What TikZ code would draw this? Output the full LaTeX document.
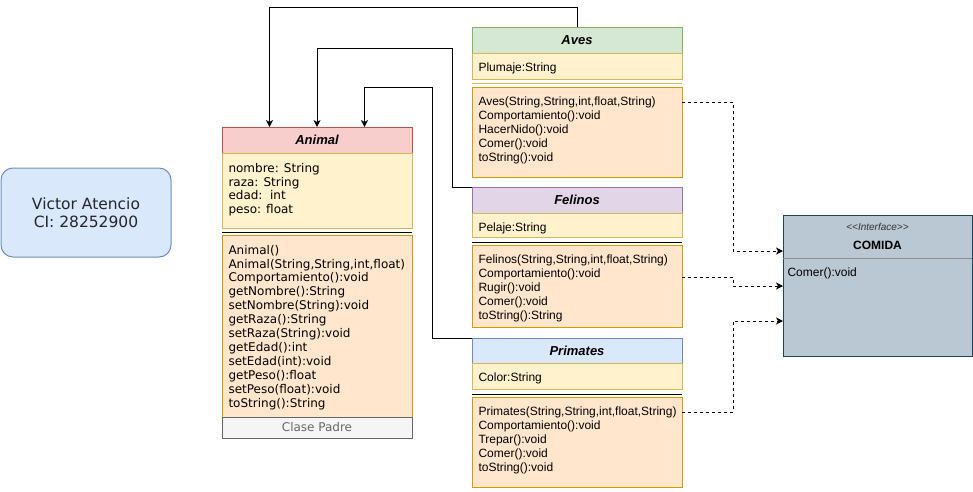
\documentclass[tikz,border=0pt]{standalone}
\usepackage{fontspec}
\setmainfont{Liberation Sans}
\newfontfamily\verdfont{DejaVu Sans}
\usepackage{tikz}
\usetikzlibrary{arrows.meta, calc}
\definecolor{PinkFill}{HTML}{F8CECC}
\definecolor{PinkLine}{HTML}{B85450}
\definecolor{AttrFill}{HTML}{FFF2CC}
\definecolor{AttrLine}{HTML}{D6B656}
\definecolor{MethFill}{HTML}{FFE6CC}
\definecolor{MethLine}{HTML}{D79B00}
\definecolor{GreenFill}{HTML}{D5E8D4}
\definecolor{GreenLine}{HTML}{82B366}
\definecolor{PurpleFill}{HTML}{E1D5E7}
\definecolor{PurpleLine}{HTML}{9673A6}
\definecolor{BlueFill}{HTML}{DAE8FC}
\definecolor{BlueLine}{HTML}{6C8EBF}
\definecolor{NoteFill}{HTML}{F5F5F5}
\definecolor{NoteLine}{HTML}{666666}
\definecolor{IfaceFill}{HTML}{BAC8D3}
\definecolor{IfaceLine}{HTML}{23445D}
\tikzset{
  headbox/.style={rectangle, anchor=north west, inner sep=0pt, outer sep=0pt, minimum height=26pt, font=\fontsize{13}{15}\selectfont\bfseries\itshape},
  attrbox/.style={rectangle, anchor=north west, inner sep=0pt, outer sep=0pt, draw=AttrLine, fill=AttrFill},
  methbox/.style={rectangle, anchor=north west, inner sep=0pt, outer sep=0pt, draw=MethLine, fill=MethFill},
  notebox/.style={rectangle, anchor=north west, inner sep=0pt, outer sep=0pt, draw=NoteLine, fill=NoteFill, text=NoteLine, font=\verdfont\fontsize{12}{14}\selectfont},
  member/.style={anchor=north west, inner sep=0pt, align=left, font=\fontsize{12}{14}\selectfont},
  vmember/.style={anchor=north west, inner sep=0pt, align=left, font=\verdfont\fontsize{12}{13.9}\selectfont},
  sepline/.style={draw=black},
  inherit/.style={draw=black, -{Stealth[length=7pt, width=7pt, inset=2pt]}},
  realize/.style={draw=black, dash pattern=on 3pt off 3pt, -{Stealth[length=7pt, width=7pt, inset=2pt]}}
}
\begin{document}
\begin{tikzpicture}[x=1pt, y=-1pt, line width=1pt]
  \useasboundingbox (0,0) rectangle (973,491);

  % Author box
  \node[rectangle, rounded corners=12pt, draw=BlueLine, fill=BlueFill, anchor=north west, outer sep=0pt, minimum width=170pt, minimum height=89pt, align=center, font=\verdfont\fontsize{15.5}{18}\selectfont, text=black!85] (autor) at (1,168) {Victor Atencio\\CI: 28252900};

  % Animal
  \node[headbox, draw=PinkLine, fill=PinkFill, minimum width=190pt] (animal) at (222,127) {Animal};
  \node[attrbox, minimum width=190pt, minimum height=75pt] (animalAttr) at (222,153) {};
  \draw[sepline] ([yshift=-4pt]animalAttr.south west) -- ++(190,0);
  \node[methbox, minimum width=190pt, minimum height=182pt] (animalMeth) at (222,235) {};
  \node[notebox, minimum width=190pt, minimum height=21pt] (animalNote) at (222,417) {Clase Padre};
  \node[vmember] (animalAttrTxt) at ([shift={(6pt,-9.5pt)}]animalAttr.north west) {nombre: String\\raza: String\\edad:\ \ int\\peso: float};
  \node[vmember] (animalMethTxt) at ([shift={(6pt,-9.5pt)}]animalMeth.north west) {Animal()\\Animal(String,String,int,float)\\Comportamiento():void\\getNombre():String\\setNombre(String):void\\getRaza():String\\setRaza(String):void\\getEdad():int\\setEdad(int):void\\getPeso():float\\setPeso(float):void\\toString():String};

  % Aves
  \node[headbox, draw=GreenLine, fill=GreenFill, minimum width=210pt] (aves) at (472,27) {Aves};
  \node[attrbox, minimum width=210pt, minimum height=26pt] (avesAttr) at (472,53) {};
  \draw[sepline, draw=AttrLine] ([yshift=-4pt]avesAttr.south west) -- ++(210,0);
  \node[methbox, minimum width=210pt, minimum height=90pt] (avesMeth) at (472,87) {};
  \node[member] (avesAttrTxt) at ([shift={(6pt,-9.5pt)}]avesAttr.north west) {Plumaje:String};
  \node[member] (avesMethTxt) at ([shift={(6pt,-9.5pt)}]avesMeth.north west) {Aves(String,String,int,float,String)\\Comportamiento():void\\HacerNido():void\\Comer():void\\toString():void};

  % Felinos
  \node[headbox, draw=PurpleLine, fill=PurpleFill, minimum width=210pt] (felinos) at (472,187) {Felinos};
  \node[attrbox, minimum width=210pt, minimum height=24pt] (felAttr) at (472,213) {};
  \draw[sepline] ([yshift=-5pt]felAttr.south west) -- ++(210,0);
  \node[methbox, minimum width=210pt, minimum height=82pt] (felMeth) at (472,245) {};
  \node[member] (felAttrTxt) at ([shift={(6pt,-9.5pt)}]felAttr.north west) {Pelaje:String};
  \node[member] (felMethTxt) at ([shift={(6pt,-9.5pt)}]felMeth.north west) {Felinos(String,String,int,float,String)\\Comportamiento():void\\Rugir():void\\Comer():void\\toString():String};

  % Primates
  \node[headbox, draw=BlueLine, fill=BlueFill, minimum width=210pt, minimum height=25pt] (primates) at (472,338) {Primates};
  \node[attrbox, minimum width=210pt, minimum height=26pt] (priAttr) at (472,363) {};
  \draw[sepline] ([yshift=-5pt]priAttr.south west) -- ++(210,0);
  \node[methbox, minimum width=210pt, minimum height=90pt] (priMeth) at (472,397) {};
  \node[member] (priAttrTxt) at ([shift={(6pt,-9.5pt)}]priAttr.north west) {Color:String};
  \node[member] (priMethTxt) at ([shift={(6pt,-9.5pt)}]priMeth.north west) {Primates(String,String,int,float,String)\\Comportamiento():void\\Trepar():void\\Comer():void\\toString():void};

  % Interface
  \node[rectangle, draw=IfaceLine, fill=IfaceFill, anchor=north west, outer sep=0pt, minimum width=189pt, minimum height=141pt] (comida) at (783,215) {};
  \draw[draw=black!45] ([yshift=-43pt]comida.north west) -- ++(189,0);
  \node[font=\fontsize{10}{12}\selectfont\itshape, text=black!80] (comidaStereo) at ([yshift=-12pt]comida.north) {<{}<Interface>{}>};
  \node[font=\fontsize{12}{14}\selectfont\bfseries] (comidaName) at ([yshift=-30pt]comida.north) {COMIDA};
  \node[member] (comidaTxt) at ([shift={(4pt,-52.5pt)}]comida.north west) {Comer():void};

  % Herencia
  \coordinate (anA) at ($(animal.north west)!0.25!(animal.north east)$);
  \coordinate (anB) at ($(animal.north west)!0.5!(animal.north east)$);
  \coordinate (anC) at ($(animal.north west)!0.75!(animal.north east)$);
  \draw[inherit] (aves.north) -- ++(0,-20) -| (anA);
  \draw[inherit] (felinos.north west) -- ++(-20,0) |- ([yshift=79pt]anB) -- (anB);
  \draw[inherit] (primates.north west) -- ++(-40,0) |- ([yshift=40pt]anC) -- (anC);

  % Implementacion
  \draw[realize] ([yshift=-15pt]avesMeth.north east) -- ++(51,0) |- ([yshift=-36pt]comida.north west);
  \draw[realize] ([yshift=-32pt]felMeth.north east) -- ++(51,0) |- ([yshift=-71pt]comida.north west);
  \draw[realize] ([yshift=-15pt]priMeth.north east) -- ++(51,0) |- ([yshift=-106pt]comida.north west);
\end{tikzpicture}
\end{document}
